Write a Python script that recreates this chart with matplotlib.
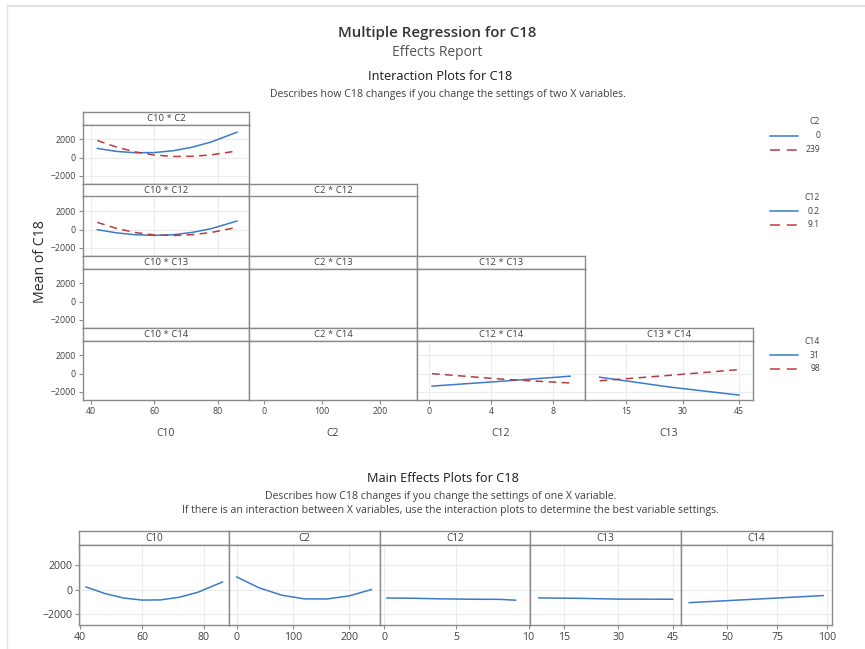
import matplotlib
matplotlib.use('Agg')
import matplotlib.pyplot as plt

plt.rcParams['font.family'] = ['Open Sans', 'DejaVu Sans']

W, H = 865, 649
BLUE = '#3b7bc8'
RED = '#b83c3c'
EDGE = '#8a8a8a'
GRID = '#ececec'
TXT = '#404040'

# interaction plot data
c10_x = [42, 48, 54, 60, 66, 72, 78, 86]
c10c2_low = [1020, 690, 540, 560, 765, 1160, 1740, 2800]      # C2 = 0
c10c2_high = [1890, 1170, 630, 290, 130, 150, 310, 735]       # C2 = 239
c10c12_low = [0, -350, -560, -630, -555, -300, 120, 950]      # C12 = 0.2
c10c12_high = [800, 140, -320, -580, -650, -550, -305, 250]   # C12 = 9.1
c12_x = [0.2, 4.65, 9.1]
c12c14_low = [-1370, -840, -280]    # C14 = 31
c12c14_high = [0, -600, -1030]      # C14 = 98
c13_x = [8, 26.5, 45]
c13c14_low = [-390, -1470, -2360]
c13c14_high = [-780, -190, 450]

# main effects data
me_c10_x = [42, 48, 54, 60, 66, 72, 78, 86]
me_c10_y = [210, -320, -690, -860, -845, -630, -225, 620]
me_c2_x = [0, 40, 80, 120, 160, 200, 239]
me_c2_y = [1030, 140, -460, -760, -770, -515, 0]
me_c12_x = [0.2, 2, 4, 6, 8, 9.1]
me_c12_y = [-690, -710, -760, -790, -800, -870]
me_c13_x = [8, 20, 30, 45]
me_c13_y = [-680, -720, -780, -790]
me_c14_x = [31, 45, 60, 75, 90, 98]
me_c14_y = [-1070, -950, -820, -690, -560, -490]

col_vars = ['C10', 'C2', 'C12', 'C13']
row_vars = ['C2', 'C12', 'C13', 'C14']
xlims = {'C10': (37.5, 89.8), 'C2': (-26, 264), 'C12': (-0.77, 10.06), 'C13': (4.1, 48.7)}
xticks = {'C10': [40, 60, 80], 'C2': [0, 100, 200], 'C12': [0, 4, 8], 'C13': [15, 30, 45]}
curves = {
    (0, 0): (c10_x, c10c2_low, c10c2_high),
    (1, 0): (c10_x, c10c12_low, c10c12_high),
    (3, 2): (c12_x, c12c14_low, c12c14_high),
    (3, 3): (c13_x, c13c14_low, c13c14_high),
}
legends = [('C2', ['0', '239'], 122), ('C12', ['0.2', '9.1'], 197), ('C14', ['31', '98'], 341)]
YLIM = (-2900, 3650)
DASH = (0, (5, 3.5))

fig = plt.figure(figsize=(W / 100, H / 100), dpi=100)


def px_axes(x0, y0, x1, y1):
    return fig.add_axes([x0 / W, 1 - y1 / H, (x1 - x0) / W, (y1 - y0) / H])


def ftext(x, y, s, **kw):
    fig.text(x / W, 1 - y / H, s, **kw)


def style(ax):
    for s in ax.spines.values():
        s.set_color(EDGE)
        s.set_linewidth(1)
    ax.tick_params(colors=EDGE, labelcolor=TXT, length=3, width=0.8, pad=2)


def strip(x0, y0, x1, y1, label, fs):
    sa = px_axes(x0, y0, x1, y1)
    sa.set_xticks([])
    sa.set_yticks([])
    style(sa)
    sa.text(0.5, 0.45, label, ha='center', va='center', fontsize=fs, color=TXT,
            transform=sa.transAxes)


# page border
fig.add_artist(plt.Line2D([7 / W, 1], [1 - 6 / H, 1 - 6 / H], color='#dddddd', lw=1.2))
fig.add_artist(plt.Line2D([7 / W, 7 / W], [0, 1 - 6 / H], color='#e6e6e6', lw=1))

ftext(437, 33, 'Multiple Regression for C18', ha='center', va='center', fontsize=10.8,
      color='#333333', fontweight='semibold')
ftext(437, 52, 'Effects Report', ha='center', va='center', fontsize=10, color='#555555')
ftext(440, 76, 'Interaction Plots for C18', ha='center', va='center', fontsize=9.2,
      color='#1a1a1a')
ftext(448, 95, 'Describes how C18 changes if you change the settings of two X variables.',
      ha='center', va='center', fontsize=7.6, color=TXT)
ftext(40, 262, 'Mean of C18', ha='center', va='center', rotation=90, fontsize=10.2,
      color='#2a2a2a')

col_x = [83, 249, 417, 585, 753]
row_top = [112, 184, 256, 328]
for r, rv in enumerate(row_vars):
    for c in range(r + 1):
        cv = col_vars[c]
        x0, x1 = col_x[c], col_x[c + 1]
        top = row_top[r]
        strip(x0, top, x1, top + 12.5, f'{cv} * {rv}', 6.8)
        ax = px_axes(x0, top + 12.5, x1, top + 72)
        style(ax)
        ax.set_xlim(xlims[cv])
        ax.set_ylim(YLIM)
        ax.set_xticks(xticks[cv])
        ax.set_yticks([-2000, 0, 2000])
        ax.tick_params(labelsize=6.3)
        if (r, c) in curves:
            xs, lo, hi = curves[(r, c)]
            ax.grid(True, color=GRID, lw=0.8)
            ax.set_axisbelow(True)
            ax.plot(xs, lo, color=BLUE, lw=1.1)
            ax.plot(xs, hi, color=RED, lw=1.1, ls=DASH)
        if c != 0:
            ax.tick_params(left=False, labelleft=False)
        if r != 3:
            ax.tick_params(bottom=False, labelbottom=False)
        else:
            ax.set_xlabel(cv, fontsize=7.5, color=TXT, labelpad=9)

for title, labels, ty in legends:
    ftext(820, ty, title, ha='right', va='center', fontsize=6.2, color=TXT)
    for k, (lab, col, ls) in enumerate(zip(labels, [BLUE, RED], ['-', (0, (6.5, 4.5))])):
        yy = 1 - (ty + 14 * (k + 1)) / H
        fig.add_artist(plt.Line2D([770 / W, 798 / W], [yy, yy], color=col, lw=1.1, ls=ls))
        ftext(820, ty + 14 * (k + 1), lab, ha='right', va='center', fontsize=6.2, color=TXT)

# main effects
ftext(443, 479, 'Main Effects Plots for C18', ha='center', va='center', fontsize=9.2,
      color='#1a1a1a')
ftext(441, 496, 'Describes how C18 changes if you change the settings of one X variable.',
      ha='center', va='center', fontsize=7.6, color=TXT)
ftext(450, 511, 'If there is an interaction between X variables, use the interaction plots '
      'to determine the best variable settings.', ha='center', va='center', fontsize=7.6, color=TXT)

me_names = ['C10', 'C2', 'C12', 'C13', 'C14']
me_xs = [me_c10_x, me_c2_x, me_c12_x, me_c13_x, me_c14_x]
me_ys = [me_c10_y, me_c2_y, me_c12_y, me_c13_y, me_c14_y]
me_lims = [(39.7, 88.1), (-13.7, 254.5), (-0.28, 10.1), (5.6, 47.3), (26.9, 102.4)]
me_ticks = [[40, 60, 80], [0, 100, 200], [0, 5, 10], [15, 30, 45], [50, 75, 100]]
me_edges = [79, 229, 380, 530, 681, 832]
for i, name in enumerate(me_names):
    x0, x1 = me_edges[i], me_edges[i + 1]
    strip(x0, 531, x1, 545, name, 7.2)
    ax = px_axes(x0, 545, x1, 625)
    style(ax)
    ax.grid(True, color=GRID, lw=0.8)
    ax.set_axisbelow(True)
    ax.plot(me_xs[i], me_ys[i], color=BLUE, lw=1.1)
    ax.set_xlim(me_lims[i])
    ax.set_ylim(YLIM)
    ax.set_xticks(me_ticks[i])
    ax.set_yticks([-2000, 0, 2000])
    ax.tick_params(labelsize=7.6)
    if i != 0:
        ax.tick_params(left=False, labelleft=False)

fig.savefig('out.png', dpi=100)
